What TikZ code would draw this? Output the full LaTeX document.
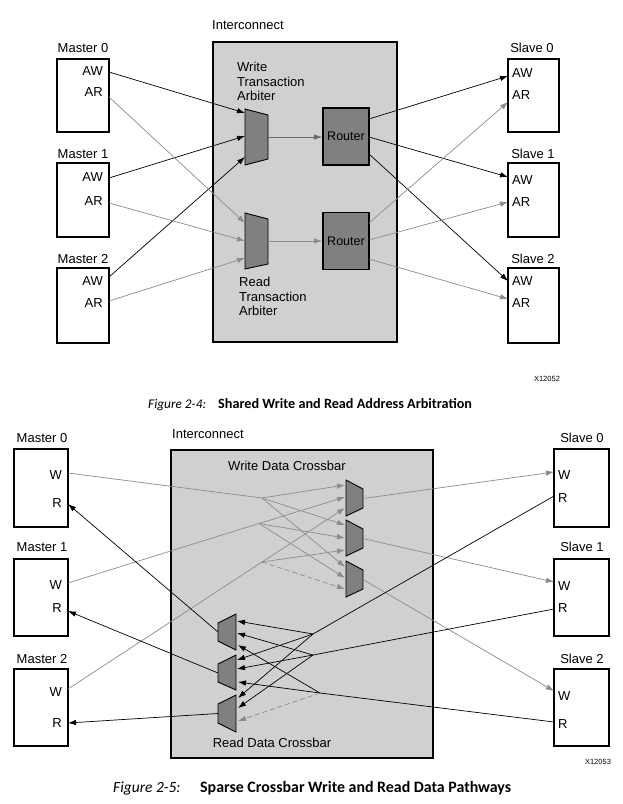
\documentclass[tikz,border=0pt]{standalone}
\usepackage{fontspec}
\setmainfont{Liberation Sans}
\newfontfamily\capfont{Carlito}
\usetikzlibrary{arrows.meta}
\definecolor{icfill}{HTML}{D0D0D0}
\definecolor{muxfill}{HTML}{808080}
\definecolor{lgray}{HTML}{8C8C8C}
\definecolor{dgray}{HTML}{6A6A6A}
\begin{document}
\begin{tikzpicture}[x=1pt,y=-1pt,
  lbl/.style={font=\fontsize{13}{14.5}\selectfont, inner sep=0pt},
  small/.style={font=\fontsize{7.5}{9}\selectfont, inner sep=0pt},
  capi/.style={font=\capfont\itshape, inner sep=0pt, anchor=base west},
  capb/.style={font=\capfont\bfseries, inner sep=0pt, anchor=base west},
  mbox/.style={draw, line width=2.4pt, fill=white, inner sep=0pt},
  icbox/.style={draw, line width=2.4pt, fill=icfill, inner sep=0pt},
  router/.style={draw, line width=1.8pt, fill=muxfill, inner sep=0pt, minimum width=46pt, minimum height=57pt, font=\fontsize{12.5}{14}\selectfont},
  muxst/.style={draw, line width=0.9pt, fill=muxfill},
  tip/.style={-{Latex[length=8pt,width=5.5pt]}},
  blk/.style={tip, draw=black, line width=0.7pt},
  gry/.style={tip, draw=lgray, color=lgray, line width=0.7pt},
  dgry/.style={tip, draw=dgray, color=dgray, line width=0.7pt},
  blkl/.style={draw=black, line width=0.7pt},
  gryl/.style={draw=lgray, line width=0.7pt},
  gdash/.style={tip, draw=lgray, color=lgray, line width=0.7pt, dash pattern=on 5pt off 3pt}
]
\useasboundingbox (0,0) rectangle (622,804);
\fill[white] (0,0) rectangle (622,804);

%================ TOP FIGURE ================
\node[lbl, anchor=west] (ic1) at (212,25) {Interconnect};
\node[icbox, minimum width=184pt, minimum height=300pt] (icb1) at (305,192) {};

% masters
\node[mbox, minimum width=52pt, minimum height=73pt] (tm0) at (83,95.5) {};
\node[mbox, minimum width=52pt, minimum height=74pt] (tm1) at (83,200) {};
\node[mbox, minimum width=52pt, minimum height=75pt] (tm2) at (83,305.5) {};
\node[lbl] (tm0l) at (83,48) {Master 0};
\node[lbl] (tm1l) at (83,154) {Master 1};
\node[lbl] (tm2l) at (83,259) {Master 2};
\node[lbl, anchor=east] (tm0aw) at (103,71) {AW};
\node[lbl, anchor=east] (tm0ar) at (103,92) {AR};
\node[lbl, anchor=east] (tm1aw) at (103,177) {AW};
\node[lbl, anchor=east] (tm1ar) at (103,201) {AR};
\node[lbl, anchor=east] (tm2aw) at (103,281) {AW};
\node[lbl, anchor=east] (tm2ar) at (103,303) {AR};

% slaves
\node[mbox, minimum width=51pt, minimum height=73pt] (ts0) at (533.5,95.5) {};
\node[mbox, minimum width=51pt, minimum height=74pt] (ts1) at (533.5,200) {};
\node[mbox, minimum width=51pt, minimum height=75pt] (ts2) at (533.5,305.5) {};
\node[lbl] (ts0l) at (532,48) {Slave 0};
\node[lbl] (ts1l) at (533,154) {Slave 1};
\node[lbl] (ts2l) at (533,259) {Slave 2};
\node[lbl, anchor=west] (ts0aw) at (512,73) {AW};
\node[lbl, anchor=west] (ts0ar) at (512,95) {AR};
\node[lbl, anchor=west] (ts1aw) at (512,180) {AW};
\node[lbl, anchor=west] (ts1ar) at (512,202) {AR};
\node[lbl, anchor=west] (ts2aw) at (512,281) {AW};
\node[lbl, anchor=west] (ts2ar) at (512,303) {AR};

% arbiters
\draw[muxst] (245,109) -- (268,115) -- (268,159) -- (245,165) -- cycle;
\draw[muxst] (245,213) -- (268,219) -- (268,264) -- (245,269) -- cycle;
\node[lbl, anchor=north west, align=left] (wal) at (237,62) {Write\\Transaction\\Arbiter};
\node[lbl, anchor=north west, align=left] (ral) at (239,277) {Read\\Transaction\\Arbiter};

% routers
\node[router] (rt1) at (346,136.5) {Router};
\node[router] (rt2) at (346,241) {Router};

% ports
\coordinate (pm0aw) at (109,72);
\coordinate (pm0ar) at (109,97);
\coordinate (pm1aw) at (109,178);
\coordinate (pm1ar) at (109,203);
\coordinate (pm2aw) at (109,277);
\coordinate (pm2ar) at (109,301);
\coordinate (wai1) at (245,113);
\coordinate (wai2) at (245,136);
\coordinate (wai3) at (245,157);
\coordinate (rai1) at (245,223);
\coordinate (rai2) at (245,241);
\coordinate (rai3) at (245,258);
\coordinate (wao) at (268,137);
\coordinate (rao) at (268,241);
\coordinate (r1o1) at (369,119);
\coordinate (r1o2) at (369,137);
\coordinate (r1o3) at (369,154);
\coordinate (r2o1) at (369,223);
\coordinate (r2o2) at (369,240);
\coordinate (r2o3) at (369,259);
\coordinate (ps0aw) at (508,76);
\coordinate (ps0ar) at (508,102);
\coordinate (ps1aw) at (508,177);
\coordinate (ps1ar) at (508,202);
\coordinate (ps2aw) at (508,281);
\coordinate (ps2ar) at (508,299);

\draw[blk] (pm0aw) -- (wai1);
\draw[blk] (pm1aw) -- (wai2);
\draw[blk] (pm2aw) -- (wai3);
\draw[gry] (pm0ar) -- (rai1);
\draw[gry] (pm1ar) -- (rai2);
\draw[gry] (pm2ar) -- (rai3);
\draw[dgry] (wao) -- (rt1.west |- wao);
\draw[gry] (rao) -- (rt2.west |- rao);
\draw[blk] (r1o1) -- (ps0aw);
\draw[blk] (r1o2) -- (ps1aw);
\draw[blk] (r1o3) -- (ps2aw);
\draw[gry] (r2o1) -- (ps0ar);
\draw[gry] (r2o2) -- (ps1ar);
\draw[gry] (r2o3) -- (ps2ar);

\node[small] (x1) at (547,379) {X12052};
\node[capi, font=\capfont\itshape\fontsize{13.3}{15}\selectfont] (cap1a) at (148,408) {Figure 2-4:};
\node[capb, font=\capfont\bfseries\fontsize{14.2}{16}\selectfont] (cap1b) at (218,408) {Shared Write and Read Address Arbitration};

%================ BOTTOM FIGURE ================
\node[lbl, anchor=west] (ic2) at (172,434) {Interconnect};
\node[icbox, minimum width=262pt, minimum height=308pt] (icb2) at (302,604) {};
\node[lbl] (wdc) at (287,466) {Write Data Crossbar};
\node[lbl] (rdc) at (272,743) {Read Data Crossbar};

% masters
\node[mbox, minimum width=54pt, minimum height=78pt] (bm0) at (41,488) {};
\node[mbox, minimum width=54pt, minimum height=77pt] (bm1) at (41,597.5) {};
\node[mbox, minimum width=54pt, minimum height=77pt] (bm2) at (41,707.5) {};
\node[lbl] (bm0l) at (42,438) {Master 0};
\node[lbl] (bm1l) at (42,547) {Master 1};
\node[lbl] (bm2l) at (42,659) {Master 2};
\node[lbl, anchor=east] (bm0w) at (62,475) {W};
\node[lbl, anchor=east] (bm0r) at (62,503) {R};
\node[lbl, anchor=east] (bm1w) at (62,585) {W};
\node[lbl, anchor=east] (bm1r) at (62,608) {R};
\node[lbl, anchor=east] (bm2w) at (62,692) {W};
\node[lbl, anchor=east] (bm2r) at (62,723) {R};

% slaves
\node[mbox, minimum width=55pt, minimum height=78pt] (bs0) at (581.5,488) {};
\node[mbox, minimum width=55pt, minimum height=77pt] (bs1) at (581.5,597.5) {};
\node[mbox, minimum width=55pt, minimum height=77pt] (bs2) at (581.5,707.5) {};
\node[lbl] (bs0l) at (582,438) {Slave 0};
\node[lbl] (bs1l) at (582,547) {Slave 1};
\node[lbl] (bs2l) at (582,659) {Slave 2};
\node[lbl, anchor=west] (bs0w) at (558,475) {W};
\node[lbl, anchor=west] (bs0r) at (558,498) {R};
\node[lbl, anchor=west] (bs1w) at (558,586) {W};
\node[lbl, anchor=west] (bs1r) at (558,608) {R};
\node[lbl, anchor=west] (bs2w) at (558,696) {W};
\node[lbl, anchor=west] (bs2r) at (558,724) {R};

% write muxes
\draw[muxst] (346,480) -- (363,489) -- (363,508) -- (346,516) -- cycle;
\draw[muxst] (346,520) -- (363,529) -- (363,548) -- (346,556) -- cycle;
\draw[muxst] (346,561) -- (363,570) -- (363,589) -- (346,597) -- cycle;
% read muxes
\draw[muxst] (236,614) -- (218,623) -- (218,641) -- (236,650) -- cycle;
\draw[muxst] (236,655) -- (218,664) -- (218,682) -- (236,690) -- cycle;
\draw[muxst] (236,695) -- (218,704) -- (218,723) -- (236,732) -- cycle;

% ports bottom
\coordinate (qm0w) at (68,473);
\coordinate (qm1w) at (68,583);
\coordinate (qm2w) at (68,689);
\coordinate (qm0r) at (68,504);
\coordinate (qm1r) at (68,611);
\coordinate (qm2r) at (68,723);
\coordinate (qs0w) at (554,472);
\coordinate (qs1w) at (554,582);
\coordinate (qs2w) at (554,691);
\coordinate (qs0r) at (554,496);
\coordinate (qs1r) at (554,609);
\coordinate (qs2r) at (554,722);
% write branch points
\coordinate (brA) at (262,498);
\coordinate (brB) at (259,523.5);
\coordinate (brC) at (262,562);
% write mux inputs
\coordinate (w1a) at (345,485);
\coordinate (w1b) at (345,497);
\coordinate (w1c) at (345,508);
\coordinate (w2a) at (345,525);
\coordinate (w2b) at (345,538);
\coordinate (w2c) at (345,550);
\coordinate (w3a) at (345,567);
\coordinate (w3b) at (345,578);
\coordinate (w3c) at (345,589);
\coordinate (w1o) at (363,498.5);
\coordinate (w2o) at (363,538.5);
\coordinate (w3o) at (363,579.5);
% read branch points
\coordinate (brP) at (313,634);
\coordinate (brQ) at (313,655);
\coordinate (brR) at (320,693);
% read mux inputs
\coordinate (rAa) at (237,621);
\coordinate (rAb) at (237,633);
\coordinate (rAc) at (238,645);
\coordinate (rBa) at (237,660);
\coordinate (rBb) at (237,669);
\coordinate (rBc) at (238,682);
\coordinate (rCa) at (238,698);
\coordinate (rCb) at (238,708);
\coordinate (rCc) at (238,721);
\coordinate (rAo) at (218,632);
\coordinate (rBo) at (218,673);
\coordinate (rCo) at (218,713.5);

% write data paths
\draw[gryl] (qm0w) -- (brA);
\draw[gry] (qm1w) -- (brB) -- (w1b);
\draw[gry] (qm2w) -- (brC) -- (w1c);
\draw[gry] (brA) -- (w1a);
\draw[gry] (brA) -- (w2a);
\draw[gry] (brB) -- (w2b);
\draw[gry] (brC) -- (w2c);
\draw[gry] (brA) -- (w3a);
\draw[gry] (brB) -- (w3b);
\draw[gdash] (brC) -- (w3c);
\draw[gry] (w1o) -- (qs0w);
\draw[gry] (w2o) -- (qs1w);
\draw[gry] (w3o) -- (qs2w);

% read data paths
\draw[blkl] (qs0r) -- (brP);
\draw[blkl] (qs1r) -- (brQ);
\draw[blkl] (qs2r) -- (brR);
\draw[blk] (brP) -- (rAa);
\draw[blk] (brQ) -- (rAb);
\draw[blk] (brR) -- (rAc);
\draw[blk] (brP) -- (rBa);
\draw[blk] (brQ) -- (rBb);
\draw[blk] (brR) -- (rBc);
\draw[blk] (brP) -- (rCa);
\draw[blk] (brQ) -- (rCb);
\draw[gdash] (brR) -- (rCc);
\draw[blk] (rAo) -- (qm0r);
\draw[blk] (rBo) -- (qm1r);
\draw[blk] (rCo) -- (qm2r);

\node[small] (x2) at (598,762) {X12053};
\node[capi, font=\capfont\itshape\fontsize{15.5}{18}\selectfont] (cap2a) at (113,792.5) {Figure 2-5:};
\node[capb, font=\capfont\bfseries\fontsize{15.9}{18}\selectfont] (cap2b) at (200,792.5) {Sparse Crossbar Write and Read Data Pathways};
\end{tikzpicture}
\end{document}
